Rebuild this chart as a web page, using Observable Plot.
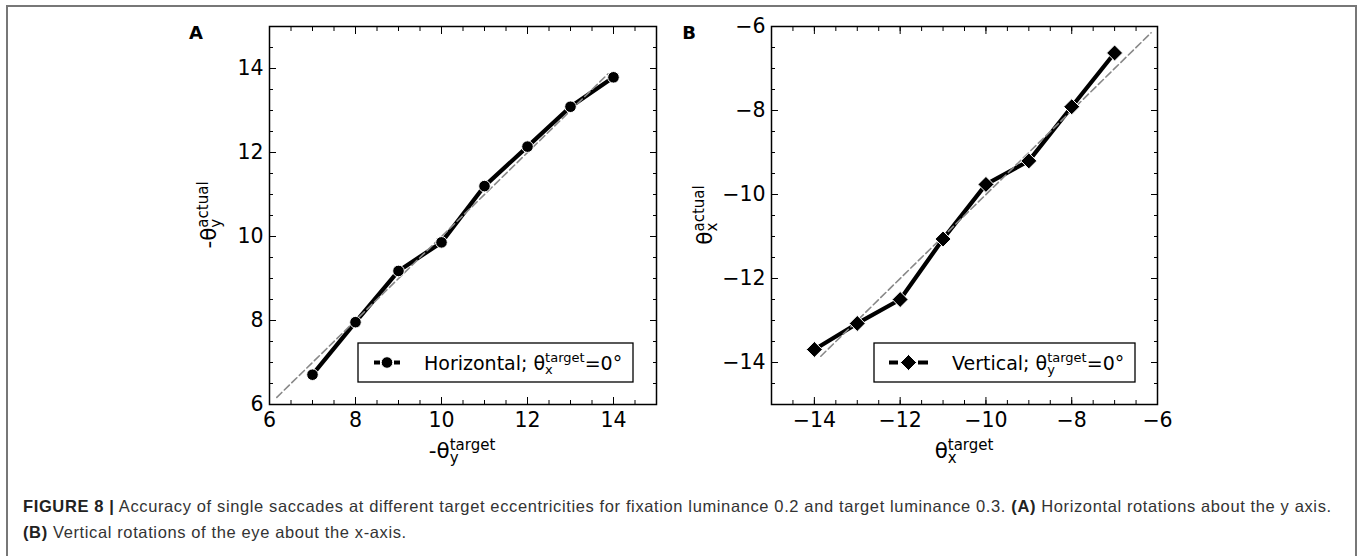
<!DOCTYPE html>
<html>
<head>
<meta charset="utf-8">
<script src="https://cdn.jsdelivr.net/npm/d3@7"></script>
<script src="https://cdn.jsdelivr.net/npm/@observablehq/plot@0.6"></script>
<style>
  html, body { margin: 0; padding: 0; background: #fff; }
  #page { position: relative; width: 1358px; height: 556px; overflow: hidden; }
  #box { position: absolute; left: 6px; top: 5px; width: 1347px; height: 600px;
         border-top: 2px solid #777; border-left: 2px solid #777; border-right: 2px solid #777; }
  .panel { position: absolute; top: 0; }
  #caption { position: absolute; left: 23px; top: 493px; font-family: "Liberation Sans", Arial, sans-serif;
             font-size: 16.5px; letter-spacing: 0.62px; line-height: 26px; color: #333; white-space: nowrap; }
  #caption b { color: #222; }
</style>
</head>
<body>
<div id="page">
  <div id="box"></div>
  <div id="panelA" class="panel" style="left:180px"></div>
  <div id="panelB" class="panel" style="left:680px"></div>
  <div id="caption"><b>FIGURE 8 |</b> Accuracy of single saccades at different target eccentricities for fixation luminance 0.2 and target luminance 0.3. <b>(A)</b> Horizontal rotations about the y axis.<br><b>(B)</b> Vertical rotations of the eye about the x-axis.</div>
</div>
<script>
// Panel A: horizontal saccades (target vs. actual, degrees)
const targetA = [7, 8, 9, 10, 11, 12, 13, 14];
const actualA = [6.71, 7.96, 9.18, 9.86, 11.20, 12.14, 13.09, 13.79];
// Panel B: vertical saccades
const targetB = [-14, -13, -12, -11, -10, -9, -8, -7];
const actualB = [-13.69, -13.07, -12.50, -11.06, -9.76, -9.20, -7.91, -6.63];
// Identity reference lines
const identityA = [6.17, 13.87];
const identityB = [-13.85, -6.15];
// Axis domains and ticks
const domainA = [6, 15];
const domainB = [-15, -6];
const majorA = [6, 8, 10, 12, 14];
const majorB = [-14, -12, -10, -8, -6];
const minorA = d3.range(6, 15.001, 0.5);
const minorB = d3.range(-15, -5.999, 0.5);

const FONT = "DejaVu Sans";

// tick marks pointing into the frame on all four sides
function inwardTicks(values, size) {
  const blank = () => "";
  return [
    Plot.axisX(values, {anchor: "bottom", tickSize: size, dy: -size, tickFormat: blank, label: null}),
    Plot.axisX(values, {anchor: "top", tickSize: size, dy: size, tickFormat: blank, label: null}),
    Plot.axisY(values, {anchor: "left", tickSize: size, dx: size, tickFormat: blank, label: null}),
    Plot.axisY(values, {anchor: "right", tickSize: size, dx: -size, tickFormat: blank, label: null})
  ];
}

function panel({xs, ys, diag, domain, major, minor, symbol, r, marginLeft, marginRight}) {
  const pts = xs.map((x, i) => ({x, y: ys[i]}));
  const diagPts = diag.map(v => ({x: v, y: v}));
  return Plot.plot({
    width: 500,
    height: 480,
    marginTop: 26,
    marginBottom: 76,
    marginLeft,
    marginRight,
    style: {fontFamily: FONT, fontSize: "20.5px", color: "black", background: "none", overflow: "visible"},
    x: {domain, axis: null},
    y: {domain, axis: null},
    marks: [
      ...inwardTicks(major, 7),
      ...inwardTicks(minor, 4),
      // tick labels
      Plot.axisX(major, {anchor: "bottom", tickSize: 0, tickPadding: 8, label: null}),
      Plot.axisY(major, {anchor: "left", tickSize: 0, tickPadding: 6, label: null}),
      Plot.frame({stroke: "black", strokeWidth: 1.5}),
      Plot.line(pts, {x: "x", y: "y", stroke: "black", strokeWidth: 4.2}),
      Plot.line(diagPts, {x: "x", y: "y", stroke: "#888", strokeWidth: 1.6, strokeDasharray: "7,3.5"}),
      Plot.dot(pts, {x: "x", y: "y", symbol, r, fill: "black", stroke: "white", strokeWidth: 1})
    ]
  });
}

// math-style label: base, stacked subscript/superscript, optional tail
function mathLabel(parent, {x, y, rotate = 0, anchor = "middle", base, sub, sup, tail = "", size, small, subDy, supDy}) {
  const t = parent.append("text")
    .attr("transform", `translate(${x},${y}) rotate(${rotate})`)
    .attr("text-anchor", anchor)
    .attr("font-family", FONT)
    .attr("font-size", size)
    .attr("fill", "black");
  t.append("tspan").text(base);
  const s = t.append("tspan").attr("font-size", small).attr("dy", subDy).text(sub);
  const w = s.node().getComputedTextLength();
  t.append("tspan").attr("font-size", small).attr("dx", -w).attr("dy", -subDy - supDy).text(sup);
  if (tail) t.append("tspan").attr("dy", supDy).text(tail);
  return t;
}

function legend(svg, {x0, x1, y0, y1, sx0, sx1, dash, symbol, r, textX, base, sub, sup, tail}) {
  const g = svg.append("g");
  g.append("rect").attr("x", x0).attr("y", y0).attr("width", x1 - x0).attr("height", y1 - y0)
    .attr("fill", "white").attr("stroke", "black").attr("stroke-width", 1.3);
  const cy = (y0 + y1) / 2;
  g.append("line").attr("x1", sx0).attr("x2", sx1).attr("y1", cy).attr("y2", cy)
    .attr("stroke", "black").attr("stroke-width", 4.2).attr("stroke-dasharray", dash);
  const cx = (sx0 + sx1) / 2;
  g.append("path").attr("transform", `translate(${cx},${cy})`)
    .attr("d", d3.symbol(symbol === "circle" ? d3.symbolCircle : d3.symbolDiamond2, Math.PI * r * r)())
    .attr("fill", "black").attr("stroke", "white").attr("stroke-width", 1);
  mathLabel(g, {x: textX, y: cy + 7, anchor: "start", base, sub, sup, tail, size: 19, small: 13, subDy: 4, supDy: 8});
}

const svgA = panel({xs: targetA, ys: actualA, diag: identityA, domain: domainA, major: majorA, minor: minorA,
  symbol: "circle", r: 5.8, marginLeft: 89, marginRight: 24});
const svgB = panel({xs: targetB, ys: actualB, diag: identityB, domain: domainB, major: majorB, minor: minorB,
  symbol: "diamond2", r: 7.2, marginLeft: 91, marginRight: 23});
document.getElementById("panelA").append(svgA);
document.getElementById("panelB").append(svgB);

const A = d3.select(svgA), B = d3.select(svgB);

// panel letters
A.append("text").attr("x", 16).attr("y", 39).attr("font-family", FONT).attr("font-weight", "bold").attr("font-size", 18).text("A");
B.append("text").attr("x", 9).attr("y", 39).attr("font-family", FONT).attr("font-weight", "bold").attr("font-size", 18).text("B");

// axis titles
mathLabel(A, {x: 36, y: 215, rotate: -90, base: "-θ", sub: "y", sup: "actual", size: 21.5, small: 15, subDy: 5, supDy: 8});
mathLabel(A, {x: 282, y: 458, base: "-θ", sub: "y", sup: "target", size: 21.5, small: 15, subDy: 5, supDy: 8});
mathLabel(B, {x: 32, y: 215, rotate: -90, base: "θ", sub: "x", sup: "actual", size: 21.5, small: 15, subDy: 5, supDy: 8});
mathLabel(B, {x: 284, y: 458, base: "θ", sub: "x", sup: "target", size: 21.5, small: 15, subDy: 5, supDy: 8});

// legends
legend(A, {x0: 178, x1: 453, y0: 343, y1: 382, sx0: 194, sx1: 220, dash: "6,14,6", symbol: "circle", r: 5.8, textX: 244,
  base: "Horizontal; θ", sub: "x", sup: "target", tail: "=0°"});
legend(B, {x0: 194, x1: 455, y0: 343, y1: 382, sx0: 209, sx1: 248, dash: "9,20,10", symbol: "diamond", r: 7.2, textX: 272,
  base: "Vertical; θ", sub: "y", sup: "target", tail: "=0°"});
</script>
</body>
</html>
